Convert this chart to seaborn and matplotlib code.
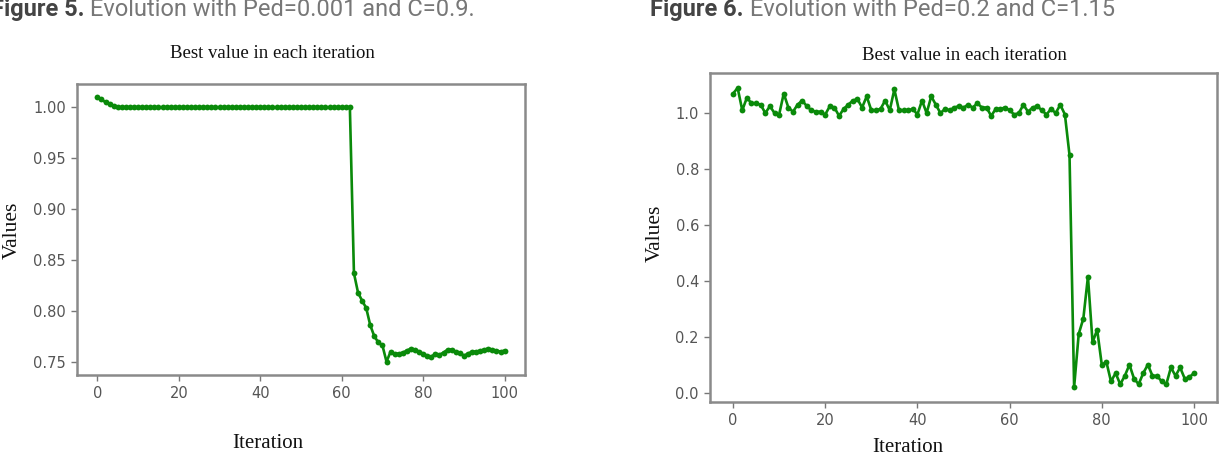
import numpy as np
import pandas as pd
import matplotlib
matplotlib.use("Agg")
import matplotlib.pyplot as plt
import seaborn as sns

# ---------------- data ----------------
iterations = list(range(101))

values_fig5 = (
    [1.010, 1.008, 1.005, 1.003, 1.001]
    + [1.000] * 58                                  # iterations 5..62
    + [0.837, 0.818, 0.810, 0.803, 0.786, 0.775, 0.769, 0.766,   # 63..70
       0.750, 0.760, 0.758, 0.758, 0.759, 0.761, 0.763, 0.762,   # 71..78
       0.760, 0.758, 0.756, 0.755, 0.758, 0.757, 0.759, 0.762,   # 79..86
       0.762, 0.760, 0.759, 0.756, 0.758, 0.760, 0.760, 0.761,   # 87..94
       0.762, 0.763, 0.762, 0.761, 0.760, 0.761]                 # 95..100
)

values_fig6 = [
    1.070, 1.090, 1.010, 1.055, 1.035, 1.035, 1.030, 1.000, 1.025, 1.000,
    0.995, 1.070, 1.020, 1.005, 1.030, 1.045, 1.025, 1.010, 1.005, 1.005,
    0.995, 1.025, 1.020, 0.990, 1.015, 1.030, 1.045, 1.050, 1.020, 1.060,
    1.010, 1.010, 1.015, 1.045, 1.010, 1.085, 1.010, 1.010, 1.010, 1.015,
    0.995, 1.045, 1.000, 1.060, 1.030, 1.000, 1.015, 1.010, 1.020, 1.025,
    1.020, 1.030, 1.020, 1.035, 1.020, 1.020, 0.990, 1.015, 1.015, 1.020,
    1.010, 0.995, 1.000, 1.030, 1.005, 1.020, 1.025, 1.010, 0.995, 1.015,
    1.000, 1.030, 0.995, 0.850, 0.020, 0.210, 0.265, 0.415, 0.180, 0.225,
    0.100, 0.110, 0.040, 0.070, 0.030, 0.060, 0.100, 0.050, 0.030, 0.070,
    0.100, 0.060, 0.060, 0.040, 0.030, 0.090, 0.060, 0.090, 0.050, 0.055,
    0.070,
]

x_ticks = [0, 20, 40, 60, 80, 100]
y_ticks_fig5 = [0.75, 0.80, 0.85, 0.90, 0.95, 1.00]
y_ticks_fig6 = [0.0, 0.2, 0.4, 0.6, 0.8, 1.0]

captions = [("Figure 5.", " Evolution with Ped=0.001 and C=0.9."),
            ("Figure 6.", " Evolution with Ped=0.2 and C=1.15")]
panel_title = "Best value in each iteration"
x_label = "Iteration"
y_label = "Values"

# ---------------- figure ----------------
sns.set_style("white")
W, H = 1227, 457
fig = plt.figure(figsize=(W / 100, H / 100), dpi=100)

def px_axes(x0, y0, x1, y1):
    return fig.add_axes([x0 / W, 1 - y1 / H, (x1 - x0) / W, (y1 - y0) / H])

ax1 = px_axes(77, 84, 525, 375)
ax2 = px_axes(710, 73, 1217, 402)

line_green = "#0a8a0a"
df5 = pd.DataFrame({"Iteration": iterations, "Values": values_fig5})
df6 = pd.DataFrame({"Iteration": iterations, "Values": values_fig6})

for ax, df, yt, fmt in [(ax1, df5, y_ticks_fig5, "{:.2f}"), (ax2, df6, y_ticks_fig6, "{:.1f}")]:
    sns.lineplot(data=df, x="Iteration", y="Values", ax=ax, color=line_green,
                 linewidth=1.9, marker="o", markersize=4.2, markeredgewidth=0)
    ax.set_xlabel("")
    ax.set_ylabel("")
    ax.set_xticks(x_ticks)
    ax.set_xticklabels([str(t) for t in x_ticks])
    ax.set_yticks(yt)
    ax.set_yticklabels([fmt.format(t) for t in yt])
    ax.tick_params(axis="both", which="both", direction="out", length=4, width=1,
                   color="#777777", labelcolor="#555555", labelsize=10.5, pad=4,
                   bottom=True, left=True)
    for s in ax.spines.values():
        s.set_color("#8a8a8a")
        s.set_linewidth(1.8)
    ax.grid(False)

ax1.margins(x=0.05, y=0.05)
ax2.margins(x=0.05, y=0.05)

# panel titles / axis labels (serif, as in the source screenshots)
serif = ["Liberation Serif", "DejaVu Serif"]
fig.text(272 / W, 1 - 54 / H, panel_title, family=serif, fontsize=13.5,
         ha="center", va="center", color="#111111")
fig.text(964 / W, 1 - 56 / H, panel_title, family=serif, fontsize=13.5,
         ha="center", va="center", color="#111111")
fig.text(268 / W, 1 - 443 / H, x_label, family=serif, fontsize=15,
         ha="center", va="center", color="#111111")
fig.text(908 / W, 1 - 447 / H, x_label, family=serif, fontsize=15,
         ha="center", va="center", color="#111111")
fig.text(12 / W, 1 - 230 / H, y_label, family=serif, fontsize=15.5, rotation=90,
         ha="center", va="center", color="#111111")
fig.text(655 / W, 1 - 233 / H, y_label, family=serif, fontsize=15.5, rotation=90,
         ha="center", va="center", color="#111111")

# figure captions (partly cut off at the top, like the reference)
cap_font = ["Roboto", "DejaVu Sans"]
for (bold, rest), x0 in zip(captions, [-9, 650]):
    t = fig.text(x0 / W, 1 - 16 / H, bold, family=cap_font, fontsize=17,
                 fontweight="bold", color="#444444", ha="left", va="baseline")
    fig.canvas.draw()
    bb = t.get_window_extent()
    fig.text(bb.x1 / W, 1 - 16 / H, rest, family=cap_font, fontsize=17,
             color="#777777", ha="left", va="baseline")

fig.savefig("out.png", dpi=100)
